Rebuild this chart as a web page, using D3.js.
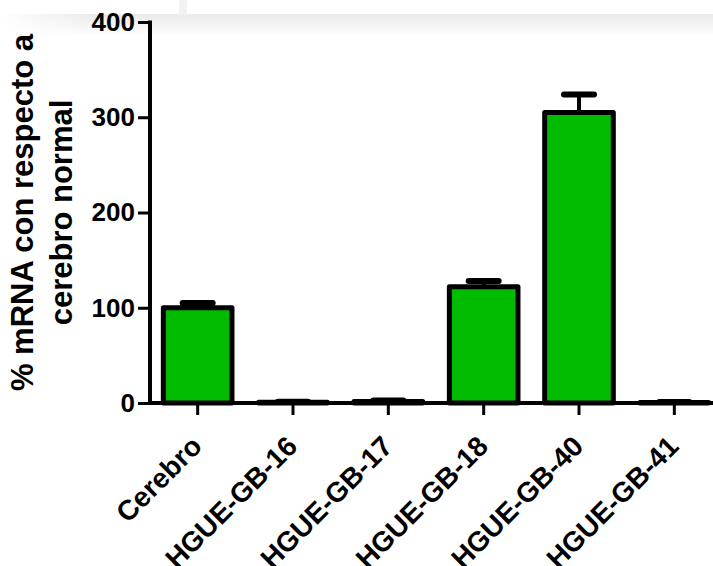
<!DOCTYPE html>
<html>
<head>
<meta charset="utf-8">
<script src="https://cdn.jsdelivr.net/npm/d3@7"></script>
<style>
  html, body { margin: 0; padding: 0; background: #fff; }
  svg { display: block; }
  text { font-family: "Liberation Sans", Arial, sans-serif; font-weight: bold; fill: #000; }
</style>
</head>
<body>
<svg id="chart" width="713" height="566"></svg>
<script>
// Relative mRNA level (% of normal brain) per sample, with upper SEM
const categories = ["Cerebro", "HGUE-GB-16", "HGUE-GB-17", "HGUE-GB-18", "HGUE-GB-40", "HGUE-GB-41"];
const values = [100, 0.8, 1.5, 122, 305, 0.6];
const errors = [5, 0.5, 1.0, 6, 19, 0.4];
const yTicks = [0, 100, 200, 300, 400];
const yTitleLines = ["% mRNA con respecto a", "cerebro normal"];

const svg = d3.select("#chart");
const W = 713, H = 566;
const plot = { left: 150, right: 722, top: 22, bottom: 403 };

// faint grey band across the top of the sheet
const defs = svg.append("defs");
const g1 = defs.append("linearGradient").attr("id", "band").attr("x1", 0).attr("y1", 0).attr("x2", 0).attr("y2", 1);
g1.append("stop").attr("offset", "0%").attr("stop-color", "#eaeaea");
g1.append("stop").attr("offset", "100%").attr("stop-color", "#ffffff");
const g2 = defs.append("linearGradient").attr("id", "bandFade").attr("x1", 0).attr("y1", 0).attr("x2", 1).attr("y2", 0);
g2.append("stop").attr("offset", "0%").attr("stop-color", "#fff").attr("stop-opacity", 1);
g2.append("stop").attr("offset", "100%").attr("stop-color", "#fff").attr("stop-opacity", 0);
svg.append("rect").attr("x", 0).attr("y", 14).attr("width", W).attr("height", 22).attr("fill", "url(#band)");
svg.append("rect").attr("x", 0).attr("y", 14).attr("width", 90).attr("height", 22).attr("fill", "url(#bandFade)");
svg.append("rect").attr("x", 179).attr("y", 0).attr("width", 8).attr("height", 15).attr("fill", "#f2f2f2");

const x = d3.scaleBand().domain(categories).range([plot.left, plot.right]).paddingInner(0.28).paddingOuter(0.14);
const y = d3.scaleLinear().domain([0, 400]).range([plot.bottom, plot.top]);

// bars
svg.append("g").selectAll("rect").data(categories).join("rect")
  .attr("x", d => x(d))
  .attr("width", x.bandwidth())
  .attr("y", (d, i) => y(values[i]))
  .attr("height", (d, i) => y(0) - y(values[i]))
  .attr("fill", "#00bb00")
  .attr("stroke", "#000")
  .attr("stroke-width", 5)
  .attr("stroke-linejoin", "round");

// upper error bars
const eb = svg.append("g").attr("stroke", "#000").attr("stroke-linecap", "round");
categories.forEach((c, i) => {
  const cx = x(c) + x.bandwidth() / 2;
  eb.append("line").attr("x1", cx).attr("x2", cx)
    .attr("y1", y(values[i])).attr("y2", y(values[i] + errors[i])).attr("stroke-width", 4);
  eb.append("line").attr("x1", cx - 15).attr("x2", cx + 15)
    .attr("y1", y(values[i] + errors[i])).attr("y2", y(values[i] + errors[i])).attr("stroke-width", 6);
});

// y axis
const yAxis = svg.append("g").attr("transform", `translate(${plot.left},0)`)
  .call(d3.axisLeft(y).tickValues(yTicks).tickSize(12).tickPadding(3).tickFormat(d3.format("d")));
yAxis.select(".domain").attr("d", `M0,${plot.top - 1.5}V${plot.bottom + 2}`).attr("stroke", "#000").attr("stroke-width", 4);
yAxis.selectAll(".tick line").attr("stroke", "#000").attr("stroke-width", 3);
yAxis.selectAll(".tick text").attr("font-size", 26).attr("font-family", "Liberation Sans, Arial, sans-serif").attr("font-weight", "bold");

// x axis
const xAxis = svg.append("g").attr("transform", `translate(0,${plot.bottom})`)
  .call(d3.axisBottom(x).tickSize(12).tickFormat(""));
xAxis.select(".domain").attr("d", `M${plot.left - 2},0H${W}`).attr("stroke", "#000").attr("stroke-width", 4);
xAxis.selectAll(".tick line").attr("stroke", "#000").attr("stroke-width", 3);

// rotated category labels
svg.append("g").selectAll("text").data(categories).join("text")
  .attr("transform", d => `translate(${x(d) + x.bandwidth() / 2 + 6},${plot.bottom + 45}) rotate(-45)`)
  .attr("text-anchor", "end")
  .attr("font-size", 28)
  .text(d => d);

// y axis title
svg.append("g").selectAll("text").data(yTitleLines).join("text")
  .attr("transform", (d, i) => `translate(${i === 0 ? 33 : 72},${(plot.top + plot.bottom) / 2}) rotate(-90)`)
  .attr("text-anchor", "middle")
  .attr("font-size", 31)
  .text(d => d);
</script>
</body>
</html>
